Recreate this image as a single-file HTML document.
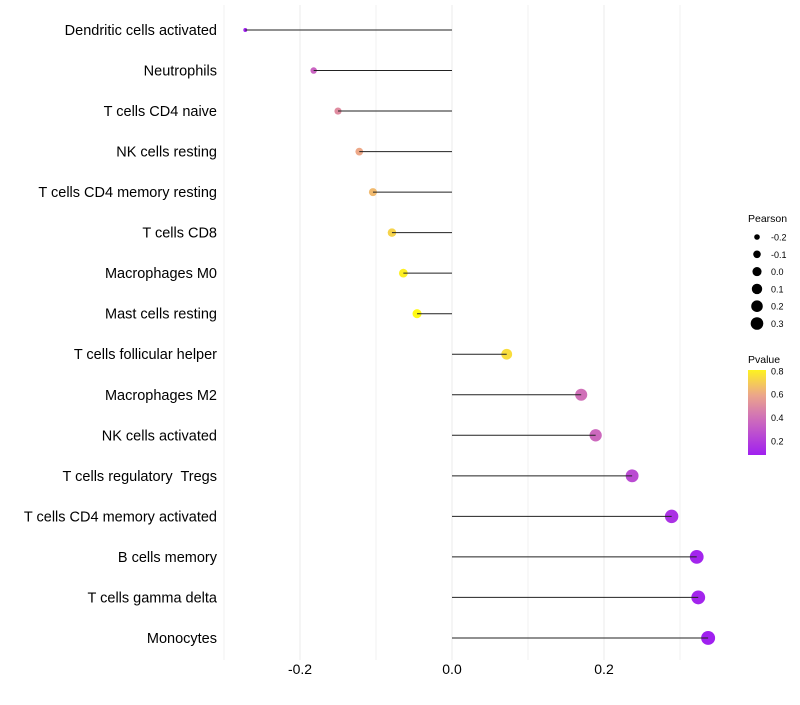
<!DOCTYPE html>
<html><head><meta charset="utf-8"><style>
body{margin:0;background:#fff;font-family:"Liberation Sans",sans-serif}
text{white-space:pre}
</style></head><body>
<svg id="chart" width="800" height="700" xmlns="http://www.w3.org/2000/svg"></svg>
<script>
const categories=["Dendritic cells activated","Neutrophils","T cells CD4 naive","NK cells resting","T cells CD4 memory resting","T cells CD8","Macrophages M0","Mast cells resting","T cells follicular helper","Macrophages M2","NK cells activated","T cells regulatory  Tregs","T cells CD4 memory activated","B cells memory","T cells gamma delta","Monocytes"];
const pearson=[-0.272,-0.182,-0.150,-0.122,-0.104,-0.079,-0.064,-0.046,0.072,0.170,0.189,0.237,0.289,0.322,0.324,0.337];
const pvalue=[0.08,0.35,0.5,0.6,0.65,0.72,0.8,0.85,0.75,0.4,0.37,0.25,0.15,0.1,0.1,0.08];
const xTicks=[-0.2,0,0.2];
const xMinor=[-0.3,-0.1,0.1,0.3];
const sizeLegend=[-0.2,-0.1,0.0,0.1,0.2,0.3];
const pLegend=[0.2,0.4,0.6,0.8];
const NS="http://www.w3.org/2000/svg";
const svg=document.getElementById('chart');
const X=v=>452+v*760;
const Y=i=>30+i*40.53;
const R=p=>Math.sqrt(Math.max(1,23.9+73.8*p));
const stops=[[0.08,[160,32,240]],[0.4,[208,112,184]],[0.6,[237,168,136]],[0.83,[255,250,20]]];
function col(p){
 if(p<=stops[0][0])return 'rgb('+stops[0][1].join(',')+')';
 for(let k=1;k<stops.length;k++){if(p<=stops[k][0]){const a=stops[k-1],b=stops[k],t=(p-a[0])/(b[0]-a[0]);return 'rgb('+a[1].map((c,j)=>Math.round(c+(b[1][j]-c)*t)).join(',')+')';}}
 return 'rgb('+stops[stops.length-1][1].join(',')+')';
}
function el(t,a,txt){const e=document.createElementNS(NS,t);for(const k in a)e.setAttribute(k,a[k]);if(txt!==undefined)e.textContent=txt;svg.appendChild(e);return e;}
xMinor.forEach(v=>{const l=el('line',{x1:X(v),x2:X(v),y1:5,y2:660,stroke:'#f2f2f2','stroke-width':1});

});
xTicks.forEach(v=>{const l=el('line',{x1:X(v),x2:X(v),y1:5,y2:660,stroke:'#ebebeb','stroke-width':1});


const t=el('text',{x:X(v),y:674,'text-anchor':'middle','font-size':14,fill:'#000'},v===0?'0.0':v.toFixed(1));

});
categories.forEach((c,i)=>{
 const t=el('text',{x:217,y:Y(i)+5,'text-anchor':'end','font-size':14.5,fill:'#000'},c);
 
 
 const d=el('circle',{cx:X(pearson[i]),cy:Y(i),r:R(pearson[i]),fill:col(pvalue[i])});
 
 
 const s=el('line',{x1:X(0),x2:X(pearson[i]),y1:Y(i),y2:Y(i),stroke:'#222','stroke-width':1});
 
 
});
const lt=el('text',{x:748,y:222,'font-size':10.5},'Pearson');


sizeLegend.forEach((v,k)=>{const y=237+k*17.3;
 const c=el('circle',{cx:757,cy:y,r:R(v)*0.93,fill:'#000'});
 
 
 const t=el('text',{x:771,y:y+3.5,'font-size':9},v.toFixed(1));
 
 });
const pt=el('text',{x:748,y:363,'font-size':10.5},'Pvalue');


const defs=el('defs',{});
const g=document.createElementNS(NS,'linearGradient');g.setAttribute('id','pg');g.setAttribute('x1','0');g.setAttribute('y1','1');g.setAttribute('x2','0');g.setAttribute('y2','0');
defs.appendChild(g);
const barTop=370,barBot=455,pv=p=>441-(p-0.2)/0.2*23.4;
for(let k=0;k<=10;k++){const y=barBot-k*(barBot-barTop)/10;const p=0.2+(441-y)/23.4*0.2;const s=document.createElementNS(NS,'stop');s.setAttribute('offset',k/10);s.setAttribute('stop-color',col(p));g.appendChild(s);}
const bar=el('rect',{x:748,y:barTop,width:18,height:barBot-barTop,fill:'url(#pg)'});


pLegend.forEach(p=>{const y=pv(p);
 const t=el('text',{x:771,y:y+3.5,'font-size':9},p.toFixed(1));
 
 });
</script>
</body></html>
